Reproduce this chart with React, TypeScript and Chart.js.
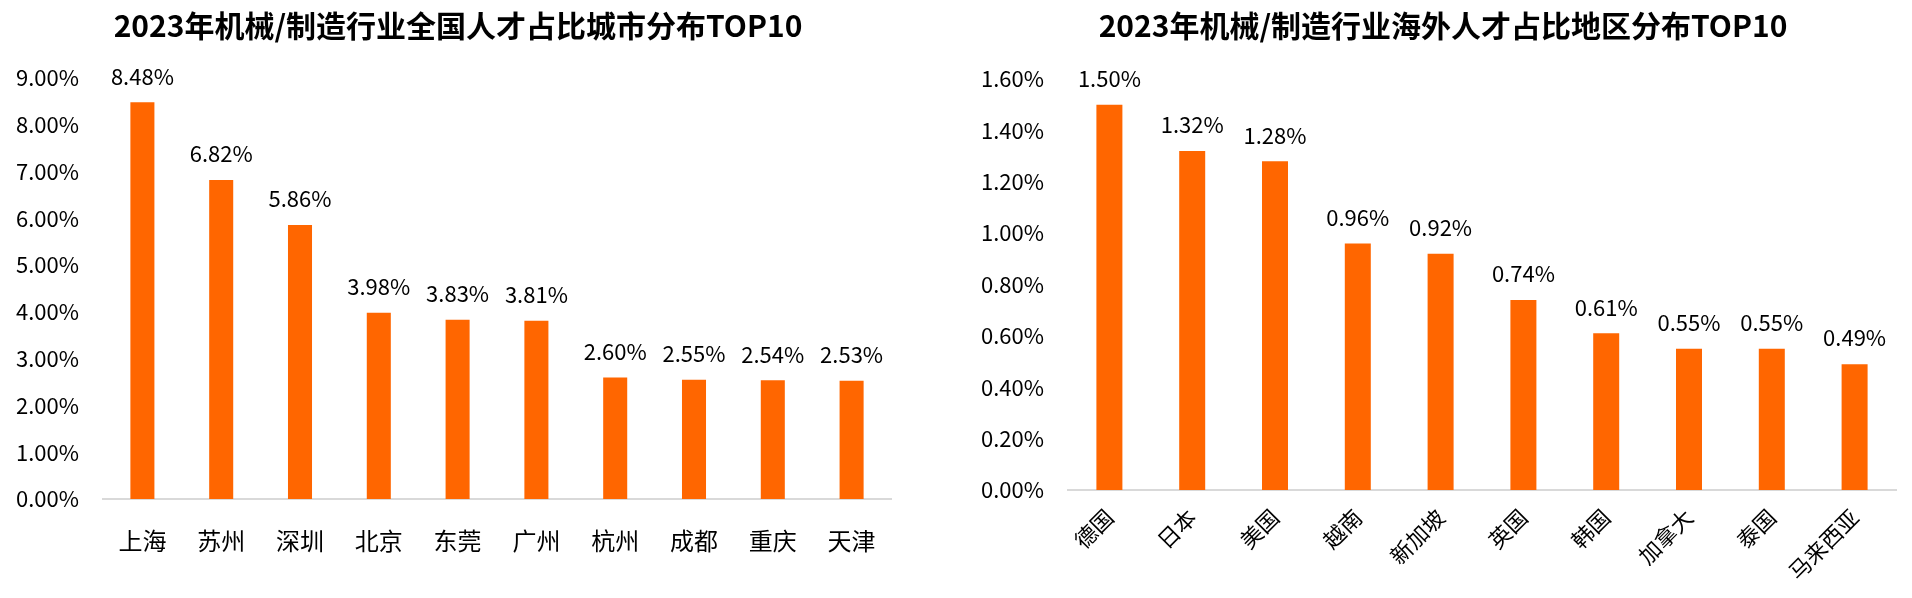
import React, { useEffect, useRef } from "react";
import { Chart, registerables } from "chart.js";

Chart.register(...registerables);

const cityLabels = ["上海", "苏州", "深圳", "北京", "东莞", "广州", "杭州", "成都", "重庆", "天津"];
const cityValues = [8.48, 6.82, 5.86, 3.98, 3.83, 3.81, 2.6, 2.55, 2.54, 2.53];
const cityTitle = "2023年机械/制造行业全国人才占比城市分布TOP10";

const regionLabels = ["德国", "日本", "美国", "越南", "新加坡", "英国", "韩国", "加拿大", "泰国", "马来西亚"];
const regionValues = [1.5, 1.32, 1.28, 0.96, 0.92, 0.74, 0.61, 0.55, 0.55, 0.49];
const regionTitle = "2023年机械/制造行业海外人才占比地区分布TOP10";

const FONT = "'Noto Sans CJK SC', 'Noto Sans', sans-serif";
const BAR = "#FF6600";

const valueLabelPlugin = {
  id: "valueLabels",
  afterLayout(chart: any) {
    // let the y tick labels extend into the left padding without being clipped
    if (chart.scales.y) chart.scales.y.left = 0;
  },
  afterDatasetsDraw(chart: any) {
    const ctx = chart.ctx;
    const meta = chart.getDatasetMeta(0);
    const data = chart.data.datasets[0].data;
    ctx.save();
    ctx.font = `22px ${FONT}`;
    ctx.fillStyle = "#000";
    ctx.textAlign = "center";
    ctx.textBaseline = "middle";
    meta.data.forEach((bar: any, i: number) => {
      ctx.fillText(Number(data[i]).toFixed(2) + "%", bar.x, bar.y - 26);
    });
    ctx.restore();
  },
};

type Cfg = {
  labels: string[];
  values: number[];
  title: string;
  max: number;
  step: number;
  yWidth: number;
  xHeight: number;
  padLeft: number;
  padRight: number;
  titleBottom: number;
  barPct: number;
  rotate: boolean;
  xFont: number;
  xPad: number;
};

function BarChart({ cfg, width, height }: { cfg: Cfg; width: number; height: number }) {
  const ref = useRef<HTMLCanvasElement>(null);
  useEffect(() => {
    const chart = new Chart(ref.current!, {
      type: "bar",
      data: {
        labels: cfg.labels,
        datasets: [
          {
            data: cfg.values,
            backgroundColor: BAR,
            categoryPercentage: 1,
            barPercentage: cfg.barPct,
          },
        ],
      },
      plugins: [valueLabelPlugin],
      options: {
        responsive: false,
        animation: false,
        devicePixelRatio: 1,
        layout: { padding: { left: cfg.padLeft, right: cfg.padRight, top: 0, bottom: 0 } },
        plugins: {
          legend: { display: false },
          tooltip: { enabled: false },
          title: {
            display: true,
            text: cfg.title,
            color: "#000",
            font: { family: FONT, size: 30, weight: "bold", lineHeight: 1.2 },
            padding: { top: 8, bottom: cfg.titleBottom },
          },
        },
        scales: {
          x: {
            grid: { display: false, drawTicks: false },
            border: { display: true, color: "#D9D9D9", width: 2 },
            ticks: {
              color: "#000",
              font: { family: FONT, size: cfg.xFont },
              padding: cfg.xPad,
              autoSkip: false,
              minRotation: cfg.rotate ? 45 : 0,
              maxRotation: cfg.rotate ? 45 : 0,
            },
            afterFit: (s: any) => {
              s.height = cfg.xHeight;
            },
          },
          y: {
            min: 0,
            max: cfg.max,
            grid: { display: false, drawTicks: false },
            border: { display: false },
            ticks: {
              stepSize: cfg.step,
              color: "#000",
              padding: 24,
              font: { family: FONT, size: 22 },
              callback: (v: any) => Number(v).toFixed(2) + "%",
            },
            afterFit: (s: any) => {
              s.width = cfg.yWidth;
            },
          },
        },
      },
    } as any);
    return () => chart.destroy();
  }, []);
  return <canvas ref={ref} width={width} height={height} style={{ width, height, display: "block" }} />;
}

const leftCfg: Cfg = {
  labels: cityLabels,
  values: cityValues,
  title: cityTitle,
  max: 9,
  step: 1,
  yWidth: 78,
  xHeight: 99,
  padLeft: 25,
  padRight: 25,
  titleBottom: 34,
  barPct: 0.305,
  rotate: false,
  xFont: 24,
  xPad: 27,
};

const rightCfg: Cfg = {
  labels: regionLabels,
  values: regionValues,
  title: regionTitle,
  max: 1.6,
  step: 0.2,
  yWidth: 78,
  xHeight: 108,
  padLeft: 14,
  padRight: 16,
  titleBottom: 35,
  barPct: 0.314,
  rotate: true,
  xFont: 22,
  xPad: 14,
};

export default function App() {
  return (
    <div style={{ position: "fixed", left: 0, top: 0, width: 1912, height: 598, background: "#fff" }}>
      <div style={{ position: "absolute", left: 0, top: 0 }}>
        <BarChart cfg={leftCfg} width={916} height={598} />
      </div>
      <div style={{ position: "absolute", left: 976, top: 0 }}>
        <BarChart cfg={rightCfg} width={936} height={598} />
      </div>
    </div>
  );
}
